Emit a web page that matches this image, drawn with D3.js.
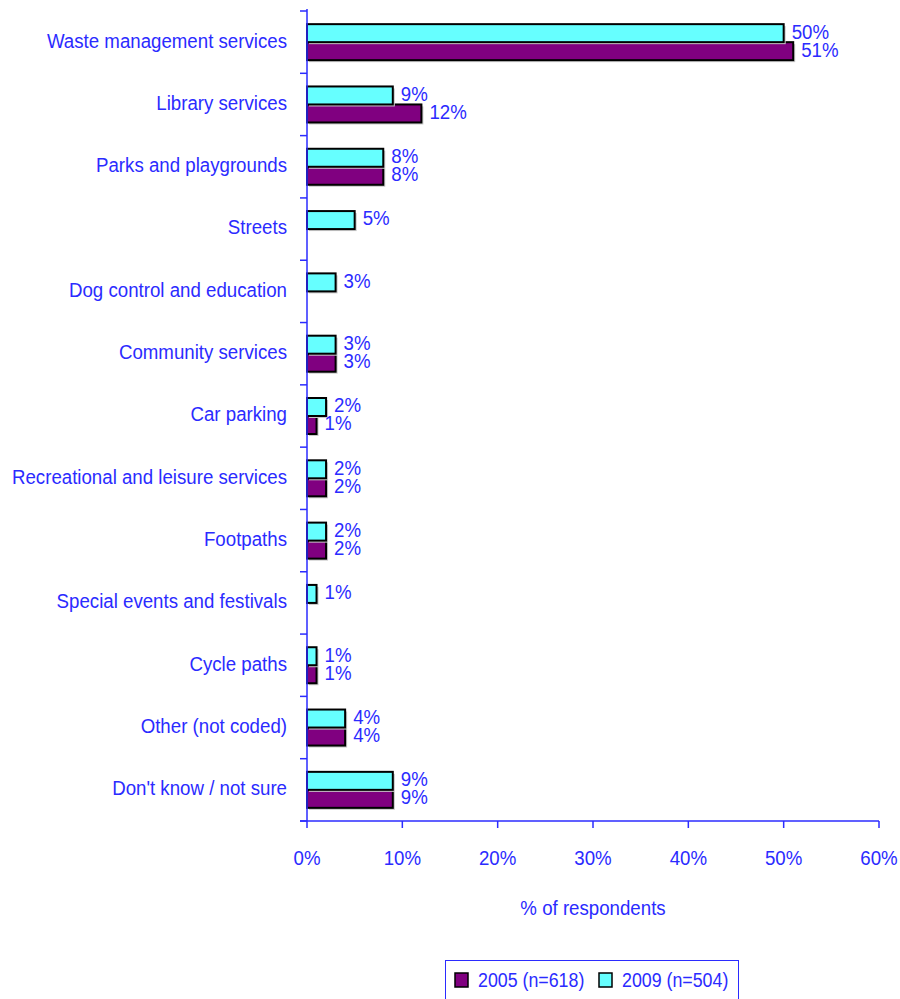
<!DOCTYPE html>
<html><head><meta charset="utf-8">
<script src="https://cdn.jsdelivr.net/npm/d3@7/dist/d3.min.js"></script>
<style>body{margin:0;background:#fff;} svg{display:block;}</style>
</head><body>
<svg id="chart" width="900" height="999"></svg>
<script>
const categories = ["Waste management services","Library services","Parks and playgrounds","Streets","Dog control and education","Community services","Car parking","Recreational and leisure services","Footpaths","Special events and festivals","Cycle paths","Other (not coded)","Don't know / not sure"];
const values2009 = [50,9,8,5,3,3,2,2,2,1,1,4,9];
const values2005 = [51,12,8,null,null,3,1,2,2,null,1,4,9];
const xTicks = [0,10,20,30,40,50,60];
const seriesNames = ["2005 (n=618)","2009 (n=504)"];

const blue = "#2b2bff";
const cyan = "#66ffff", purple = "#800080";
const font = "'Liberation Sans Narrow','Arial Narrow','Liberation Sans',Arial,sans-serif";
const SX = 0.89, FS = 21;

const svg = d3.select("#chart");
const x = d3.scaleLinear().domain([0,60]).range([307,879]);
const y = d3.scaleBand().domain(categories).range([11,821]).paddingInner(0);
const bw = y.bandwidth();
const sub = d3.scaleBand().domain(["2009","2005"]).range([bw/2-18, bw/2+18]);

const rows = categories.map((c,i)=>({c, v09: values2009[i], v05: values2005[i]}));
const g = svg.append("g");

// condensed text helper
function ctext(sel, fx, fy, anchor, fs){
  return sel.append("text")
    .attr("transform", (d,i)=>`translate(${fx(d,i)},${fy(d,i)}) scale(${SX},1)`)
    .attr("dy","0.35em").attr("text-anchor",anchor||"start")
    .attr("fill",blue).attr("font-family",font).attr("font-size",fs||FS);
}

function drawBars(key, serie, color){
  const data = rows.filter(d=>d[key]!=null);
  g.selectAll(null).data(data).enter().append("rect")
    .attr("x", x(0)+2).attr("y", d=>y(d.c)+sub(serie)+2)
    .attr("width", d=>x(d[key])-x(0)).attr("height", sub.bandwidth())
    .attr("fill","#c8c8c8");
  g.selectAll(null).data(data).enter().append("rect")
    .attr("x", x(0)).attr("y", d=>y(d.c)+sub(serie))
    .attr("width", d=>x(d[key])-x(0)).attr("height", sub.bandwidth())
    .attr("fill",color).attr("stroke","#000").attr("stroke-width",2);
}
drawBars("v05","2005",purple);
drawBars("v09","2009",cyan);

function drawLabels(key, serie){
  const data = rows.filter(d=>d[key]!=null);
  ctext(g.selectAll(null).data(data).enter(),
    d=>x(d[key])+8, d=>y(d.c)+sub(serie)+sub.bandwidth()/2-2)
    .text(d=>d[key]+"%");
}
drawLabels("v09","2009");
drawLabels("v05","2005");

// y axis
const yAxis = svg.append("g");
yAxis.append("line").attr("x1",x(0)).attr("x2",x(0)).attr("y1",9).attr("y2",821).attr("stroke",blue).attr("stroke-width",1.5);
const bounds = categories.map(c=>y(c)).concat([y.range()[1]]);
yAxis.selectAll(null).data(bounds).enter().append("line")
  .attr("x1",x(0)-7).attr("x2",x(0)).attr("y1",d=>d).attr("y2",d=>d).attr("stroke",blue).attr("stroke-width",1.5);
ctext(yAxis.selectAll(null).data(categories).enter(), ()=>287, d=>y(d)+bw/2-2, "end").text(d=>d);

// x axis
const xAxis = svg.append("g");
xAxis.append("line").attr("x1",x(0)-7).attr("x2",x(60)).attr("y1",821).attr("y2",821).attr("stroke",blue).attr("stroke-width",1.5);
xAxis.selectAll(null).data(xTicks).enter().append("line")
  .attr("x1",d=>x(d)).attr("x2",d=>x(d)).attr("y1",821).attr("y2",828).attr("stroke",blue).attr("stroke-width",1.5);
ctext(xAxis.selectAll(null).data(xTicks).enter(), d=>x(d), ()=>858, "middle").text(d=>d+"%");
ctext(svg.selectAll(null).data(["% of respondents"]).enter(), ()=>(x(0)+x(60))/2, ()=>908, "middle").text(d=>d);

// legend
const leg = svg.append("g");
leg.append("rect").attr("x",445.5).attr("y",960.5).attr("width",293).attr("height",45).attr("fill","#fff").attr("stroke",blue).attr("stroke-width",1);
const legItems = [{n:seriesNames[0],c:purple,x:455},{n:seriesNames[1],c:cyan,x:599}];
leg.selectAll(null).data(legItems).enter().append("rect")
  .attr("x",d=>d.x).attr("y",973).attr("width",13).attr("height",14).attr("fill",d=>d.c).attr("stroke","#000").attr("stroke-width",1.5);
ctext(leg.selectAll(null).data(legItems).enter(), d=>d.x+23, ()=>980, "start", 20).text(d=>d.n);
</script>
</body></html>
